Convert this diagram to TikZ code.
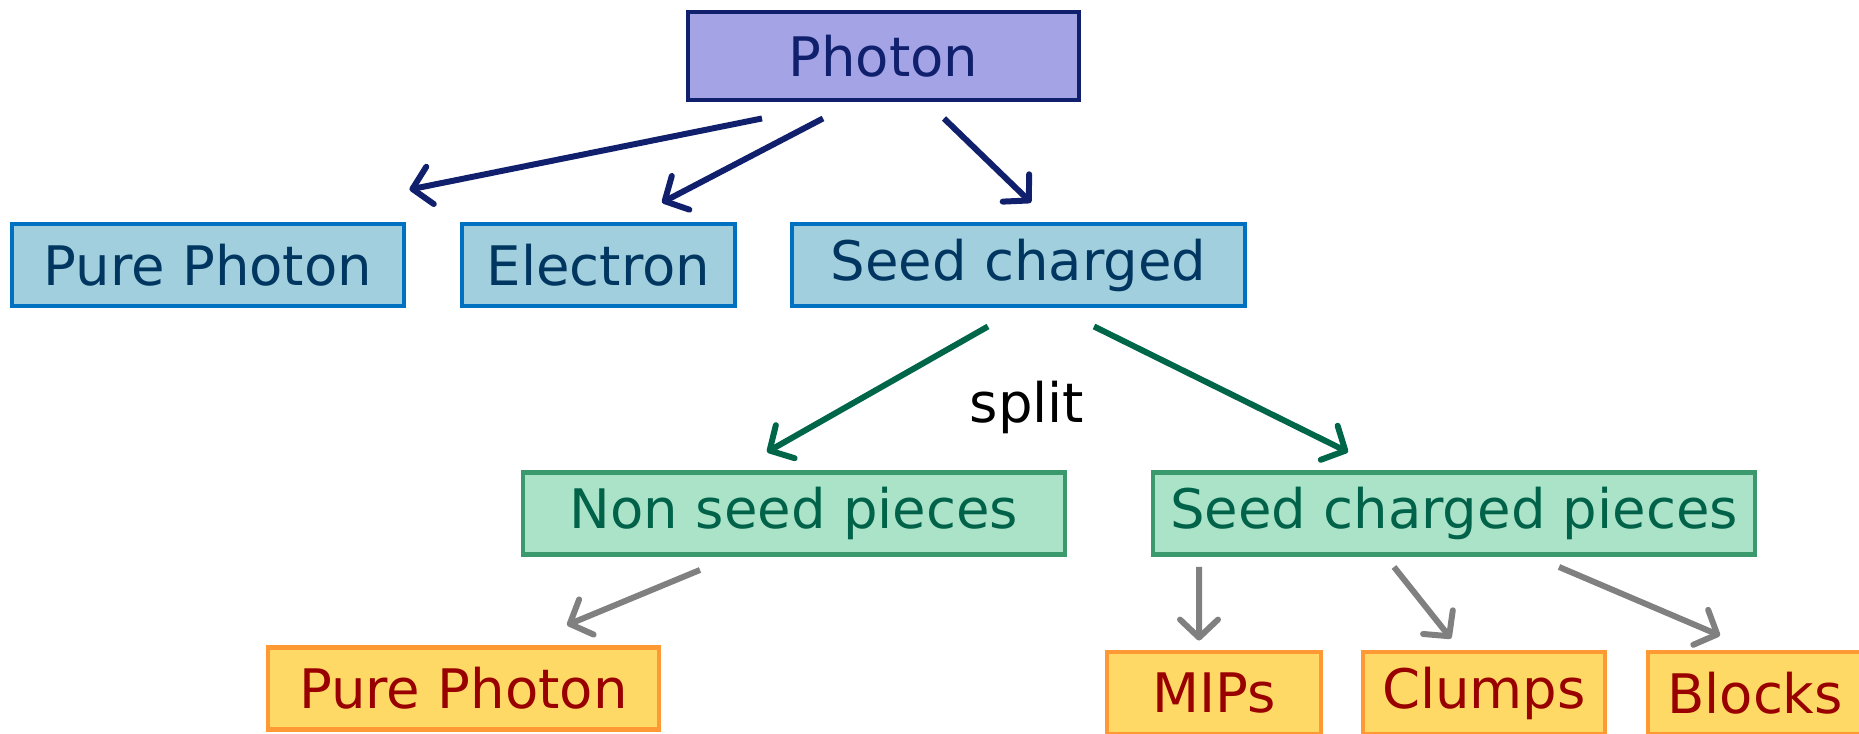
\documentclass[tikz,border=0pt]{standalone}
\usepackage{fontspec}
\setmainfont{DejaVu Sans}
\usetikzlibrary{arrows.meta}
\definecolor{navyln}{HTML}{10206C}
\definecolor{lavfill}{HTML}{A3A3E6}
\definecolor{blueln}{HTML}{0070C0}
\definecolor{bluefill}{HTML}{A1CFDD}
\definecolor{bluetxt}{HTML}{003660}
\definecolor{greenln}{HTML}{3A9A6E}
\definecolor{greenfill}{HTML}{ABE3C9}
\definecolor{greentxt}{HTML}{006249}
\definecolor{greenarr}{HTML}{00664A}
\definecolor{orangeln}{HTML}{FF9933}
\definecolor{yellowfill}{HTML}{FFD966}
\definecolor{redtxt}{HTML}{990000}
\definecolor{grayarr}{HTML}{808080}
\tikzset{
	box/.style={draw, line width=1.4pt, minimum height=0.82cm, inner sep=0pt, font=\fontsize{15.5}{18}\selectfont},
	rootbox/.style={box, draw=navyln, fill=lavfill, text=navyln, minimum height=0.88cm},
	kindbox/.style={box, draw=blueln, fill=bluefill, text=bluetxt},
	piecebox/.style={box, draw=greenln, fill=greenfill, text=greentxt},
	leafbox/.style={box, draw=orangeln, fill=yellowfill, text=redtxt},
	arr/.style={line width=1.7pt, -{Straight Barb[length=1.8mm,width=3.8mm,round]}},
}
\begin{document}
\begin{tikzpicture}
	\useasboundingbox (0,0) rectangle (18.59,-7.33);
	% top
	\node[rootbox, minimum width=3.91cm] (photon) at (8.835,-0.56) {Photon};
	% first split
	\node[kindbox, minimum width=3.92cm] (purephot) at (2.08,-2.65) {Pure Photon};
	\node[kindbox, minimum width=2.73cm] (electron) at (5.985,-2.65) {Electron};
	\node[kindbox, minimum width=4.53cm] (seedch) at (10.185,-2.65) {Seed charged};
	% pieces
	\node[piecebox, minimum width=5.42cm] (nonseed) at (7.94,-5.135) {Non seed pieces\hspace{0.3cm}};
	\node[piecebox, minimum width=6.02cm] (seedpcs) at (14.54,-5.135) {Seed charged pieces};
	\node[font=\fontsize{15.5}{18}\selectfont] (split) at (10.27,-4.07) {split};
	% leaves
	\node[leafbox, minimum width=3.91cm] (purephot2) at (4.635,-6.885) {Pure Photon};
	\node[leafbox, minimum width=2.14cm] (mips) at (12.14,-6.93) {MIPs};
	\node[leafbox, minimum width=2.42cm] (clumps) at (14.84,-6.93) {Clumps};
	\node[leafbox, minimum width=2.14cm] (blocks) at (17.55,-6.93) {Blocks};

	\draw[arr, navyln] ([shift={(-1.215,-0.16)}]photon.south) -- ([shift={(0.03,0.32)}]purephot.north east);
	\draw[arr, navyln] ([shift={(-0.605,-0.16)}]photon.south) -- ([shift={(0.635,0.19)}]electron.north);
	\draw[arr, navyln] ([shift={(0.605,-0.16)}]photon.south) -- ([shift={(0.125,0.19)}]seedch.north);

	\draw[arr, greenarr] ([shift={(-0.305,-0.18)}]seedch.south) -- ([shift={(-0.27,0.18)}]nonseed.north);
	\draw[arr, greenarr] ([shift={(0.755,-0.18)}]seedch.south) -- ([shift={(-1.06,0.18)}]seedpcs.north);

	\draw[arr, grayarr] ([shift={(-0.94,-0.13)}]nonseed.south) -- ([shift={(1.035,0.20)}]purephot2.north);
	\draw[arr, grayarr] ([shift={(-2.55,-0.10)}]seedpcs.south) -- ([shift={(-0.15,0.09)}]mips.north);
	\draw[arr, grayarr] ([shift={(-0.60,-0.10)}]seedpcs.south) -- ([shift={(-0.33,0.11)}]clumps.north);
	\draw[arr, grayarr] ([shift={(1.05,-0.10)}]seedpcs.south) -- ([shift={(-0.35,0.14)}]blocks.north);
\end{tikzpicture}
\end{document}
